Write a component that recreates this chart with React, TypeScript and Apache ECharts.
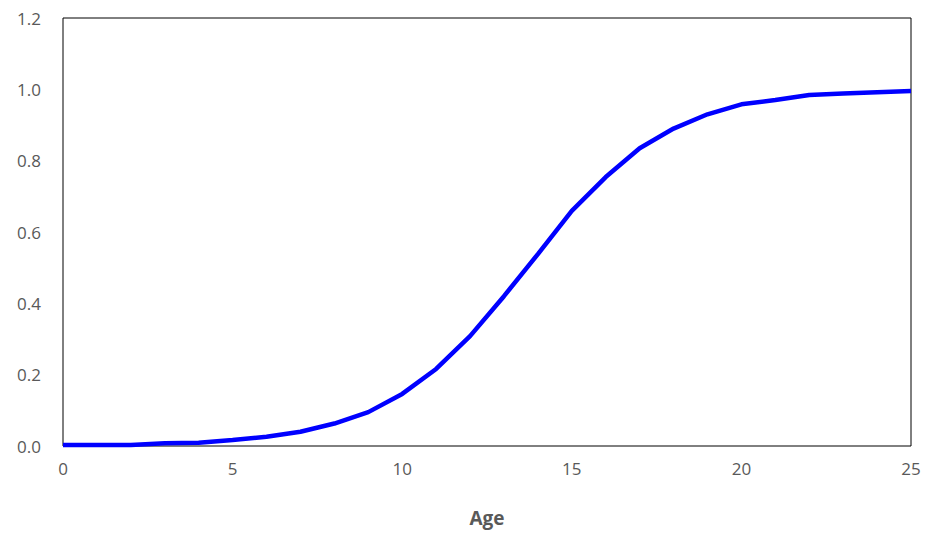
import { useEffect, useRef } from 'react';
import * as echarts from 'echarts';

const ages = [0, 1, 2, 3, 4, 5, 6, 7, 8, 9, 10, 11, 12, 13, 14, 15, 16, 17, 18, 19, 20, 21, 22, 23, 24, 25];
const values = [
  0.003, 0.003, 0.003, 0.008, 0.009, 0.017, 0.026, 0.04, 0.063, 0.095, 0.146, 0.216, 0.308, 0.42,
  0.538, 0.659, 0.754, 0.835, 0.89, 0.93, 0.958, 0.97, 0.984, 0.988, 0.992, 0.995,
];

export default function App() {
  const ref = useRef<HTMLDivElement>(null);

  useEffect(() => {
    if (!ref.current) return;
    const chart = echarts.init(ref.current, undefined, { renderer: 'svg' });
    const label = { color: '#595959', fontSize: 17, fontFamily: 'Open Sans' };
    chart.setOption({
      animation: false,
      grid: { left: 63, right: 19, top: 18, bottom: 89, show: true, borderColor: '#000', borderWidth: 1 },
      xAxis: {
        type: 'value',
        min: 0,
        max: 25,
        interval: 5,
        name: 'Age',
        nameLocation: 'middle',
        nameGap: 62,
        nameTextStyle: { color: '#595959', fontSize: 19, fontWeight: 'bold', fontFamily: 'Open Sans' },
        axisLine: { show: false },
        axisTick: { show: false },
        splitLine: { show: false },
        axisLabel: { ...label, margin: 14 },
      },
      yAxis: {
        type: 'value',
        min: 0,
        max: 1.2,
        interval: 0.2,
        axisLine: { show: false },
        axisTick: { show: false },
        splitLine: { show: false },
        axisLabel: { ...label, margin: 22, formatter: (v: number) => v.toFixed(1) },
      },
      series: [
        {
          type: 'line',
          data: ages.map((a, i) => [a, values[i]]),
          showSymbol: false,
          lineStyle: { color: '#0000ff', width: 4.5 },
        },
      ],
    });
    return () => chart.dispose();
  }, []);

  return <div ref={ref} style={{ position: 'fixed', left: 0, top: 0, width: 930, height: 535, background: '#fff' }} />;
}
